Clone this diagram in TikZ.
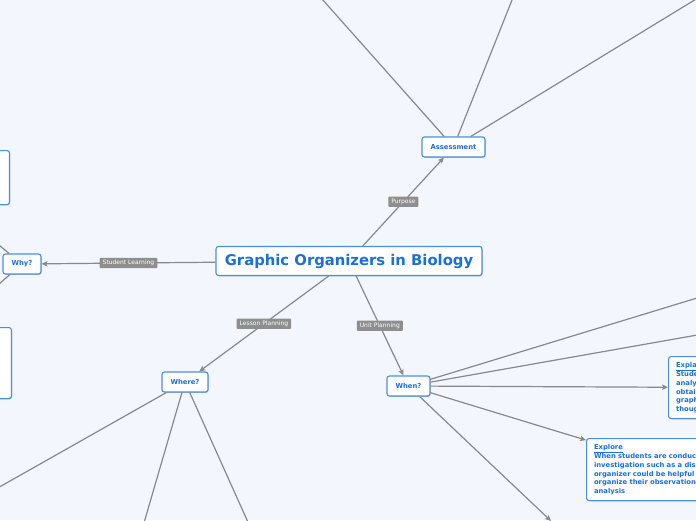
\documentclass[tikz,border=0pt]{standalone}
\usepackage{fontspec}
\setmainfont{DejaVu Sans}
\usetikzlibrary{arrows.meta,shadows}
\definecolor{paper}{HTML}{F3F6FD}
\definecolor{ink}{HTML}{1A70DA}
\definecolor{rim}{HTML}{4A90E2}
\definecolor{wiregray}{HTML}{88888D}
\definecolor{taggray}{HTML}{8E8E8E}
\begin{document}
\begin{tikzpicture}[x=1pt,y=-1pt,
	topic/.style={draw=rim,line width=1.1pt,fill=white,rounded corners=2.5pt,text=ink,
		font=\bfseries\fontsize{6.8}{8.5}\selectfont,minimum height=20pt,inner sep=3pt,
		drop shadow={shadow xshift=.6pt,shadow yshift=-.8pt,opacity=.25,fill=black}},
	note/.style={topic,align=left,anchor=north west,inner xsep=7.5pt,inner ysep=5.5pt,
		font=\bfseries\fontsize{6.8}{8.6}\selectfont},
	tag/.style={fill=taggray,text=white,font=\fontsize{6}{7}\selectfont,inner xsep=3pt,inner ysep=2.2pt,rounded corners=.8pt},
	wire/.style={draw=wiregray,line width=1.2pt},
	arrowline/.style={wire,-{Stealth[length=6pt,width=5.5pt,inset=1.5pt]}}]
	\clip(0,0)rectangle(696,520);
	\fill[paper](0,0)rectangle(696,520);
	% topics
	\node[topic,font=\bfseries\fontsize{14.8}{16}\selectfont,minimum width=266pt,minimum height=29pt](root)at(349,261){Graphic Organizers in Biology};
	\node[topic,minimum width=63pt](assess)at(453.5,147){Assessment};
	\node[topic,minimum width=38pt](why)at(22,264){Why?};
	\node[topic,minimum width=46pt](where)at(185,382){Where?};
	\node[topic,minimum width=43pt](when)at(408.5,386){When?};
	\node[topic,anchor=north east,minimum width=90pt,minimum height=54pt](leftup)at(10,150){};
	\node[topic,anchor=north east,minimum width=90pt,minimum height=71pt](leftdown)at(12,327){};
	\node[note,text width=115pt,minimum height=62pt](explain)at(668,356){\underline{Explain}\\[.6pt]Students can\\analyze data\\obtained in a\\graphic of their\\thoughts};
	\node[note,text width=177pt,minimum height=62pt](explore)at(586,438){\underline{Explore}\\[.6pt]When students are conducting an\\investigation such as a dissection\\organizer could be helpful to\\organize their observations\\analysis};
	% free ends
	\coordinate(a1)at(314,-10);
	\coordinate(a2)at(516,-10);
	\coordinate(a3)at(711,-10);
	\coordinate(y1)at(-40,213);
	\coordinate(y2)at(-40,318);
	\coordinate(w1)at(-20,498);
	\coordinate(w2)at(139,540);
	\coordinate(w3)at(256,540);
	\coordinate(n1)at(720,291);
	\coordinate(n2)at(720,331);
	\coordinate(n5)at(551,521);
	% links
	\draw[arrowline](root)--node[tag]{Purpose}(assess);
	\draw[arrowline](root)--node[tag]{Student Learning}(why);
	\draw[arrowline](root)--node[tag]{Lesson Planning}(where);
	\draw[arrowline](root)--node[tag]{Unit Planning}(when);
	\draw[wire](assess)--(a1) (assess)--(a2) (assess)--(a3);
	\draw[wire](why)--(y1) (why)--(y2);
	\draw[wire](where)--(w1) (where)--(w2) (where)--(w3);
	\draw[wire](when)--(n1) (when)--(n2);
	\draw[arrowline](when)--(explain);
	\draw[arrowline](when)--(explore);
	\draw[arrowline](when)--(n5);
\end{tikzpicture}
\end{document}
